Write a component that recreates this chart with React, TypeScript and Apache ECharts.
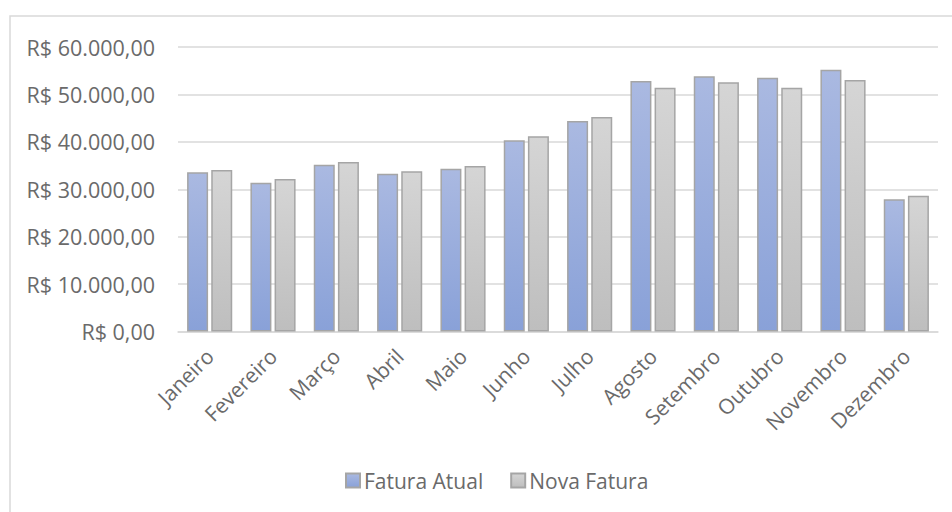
import React, { useEffect, useRef } from "react";
import * as echarts from "echarts";

const categories = [
  "Janeiro", "Fevereiro", "Março", "Abril", "Maio", "Junho",
  "Julho", "Agosto", "Setembro", "Outubro", "Novembro", "Dezembro",
];
const faturaAtual = [33580, 31380, 35180, 33280, 34340, 40320, 44390, 52830, 53820, 53530, 55210, 27880];
const novaFatura = [34060, 32160, 35750, 33790, 34900, 41160, 45240, 51420, 52550, 51420, 53040, 28640];
const seriesNames = ["Fatura Atual", "Nova Fatura"];

const FONT = "Open Sans";
const TEXT = "#6A6A6A";

function fmt(v: number): string {
  const int = Math.round(v).toString().replace(/\B(?=(\d{3})+(?!\d))/g, ".");
  return "R$ " + int + ",00";
}

export default function App() {
  const ref = useRef<HTMLDivElement>(null);
  useEffect(() => {
    if (!ref.current) return;
    const chart = echarts.init(ref.current, undefined, { renderer: "svg" });
    const blue = new echarts.graphic.LinearGradient(0, 0, 0, 1, [
      { offset: 0, color: "#AAB9E1" },
      { offset: 1, color: "#89A1D8" },
    ]);
    const gray = new echarts.graphic.LinearGradient(0, 0, 0, 1, [
      { offset: 0, color: "#D5D5D5" },
      { offset: 1, color: "#BEBEBE" },
    ]);
    chart.setOption({
      animation: false,
      backgroundColor: "#ffffff",
      graphic: [
        {
          type: "rect",
          shape: { x: 10, y: 16, width: 980, height: 540 },
          style: { fill: "none", stroke: "#D9D9D9", lineWidth: 1.5 },
          silent: true,
        },
      ],
      grid: { left: 178, right: 14, top: 47, bottom: 180.5, containLabel: false },
      legend: {
        data: seriesNames,
        left: 340,
        top: 465,
        itemWidth: 14,
        itemHeight: 14,
        itemGap: 27,
        icon: "rect",
        textStyle: { fontFamily: FONT, fontSize: 21, color: TEXT, padding: [0, 0, 0, -1] },
      },
      xAxis: {
        type: "category",
        data: categories,
        axisLine: { lineStyle: { color: "#D9D9D9", width: 1.5 } },
        axisTick: { show: false },
        axisLabel: {
          rotate: 45,
          margin: 21,
          fontFamily: FONT,
          fontSize: 21,
          color: TEXT,
          interval: 0,
        },
      },
      yAxis: {
        type: "value",
        min: 0,
        max: 60000,
        interval: 10000,
        axisLine: { show: false },
        axisTick: { show: false },
        splitLine: { lineStyle: { color: "#D9D9D9", width: 1.5 } },
        axisLabel: {
          margin: 23,
          fontFamily: FONT,
          fontSize: 21.5,
          color: TEXT,
          formatter: (v: number) => fmt(v),
        },
      },
      series: [
        {
          name: seriesNames[0],
          type: "bar",
          data: faturaAtual,
          barWidth: 21,
          barGap: "15%",
          itemStyle: { color: blue, borderColor: "#A5A5A5", borderWidth: 1.5 },
        },
        {
          name: seriesNames[1],
          type: "bar",
          data: novaFatura,
          barWidth: 21,
          barGap: "15%",
          itemStyle: { color: gray, borderColor: "#A5A5A5", borderWidth: 1.5 },
        },
      ],
    });
    return () => chart.dispose();
  }, []);
  return (
    <div
      ref={ref}
      style={{ position: "fixed", left: 0, top: 0, width: 952, height: 512 }}
    />
  );
}
